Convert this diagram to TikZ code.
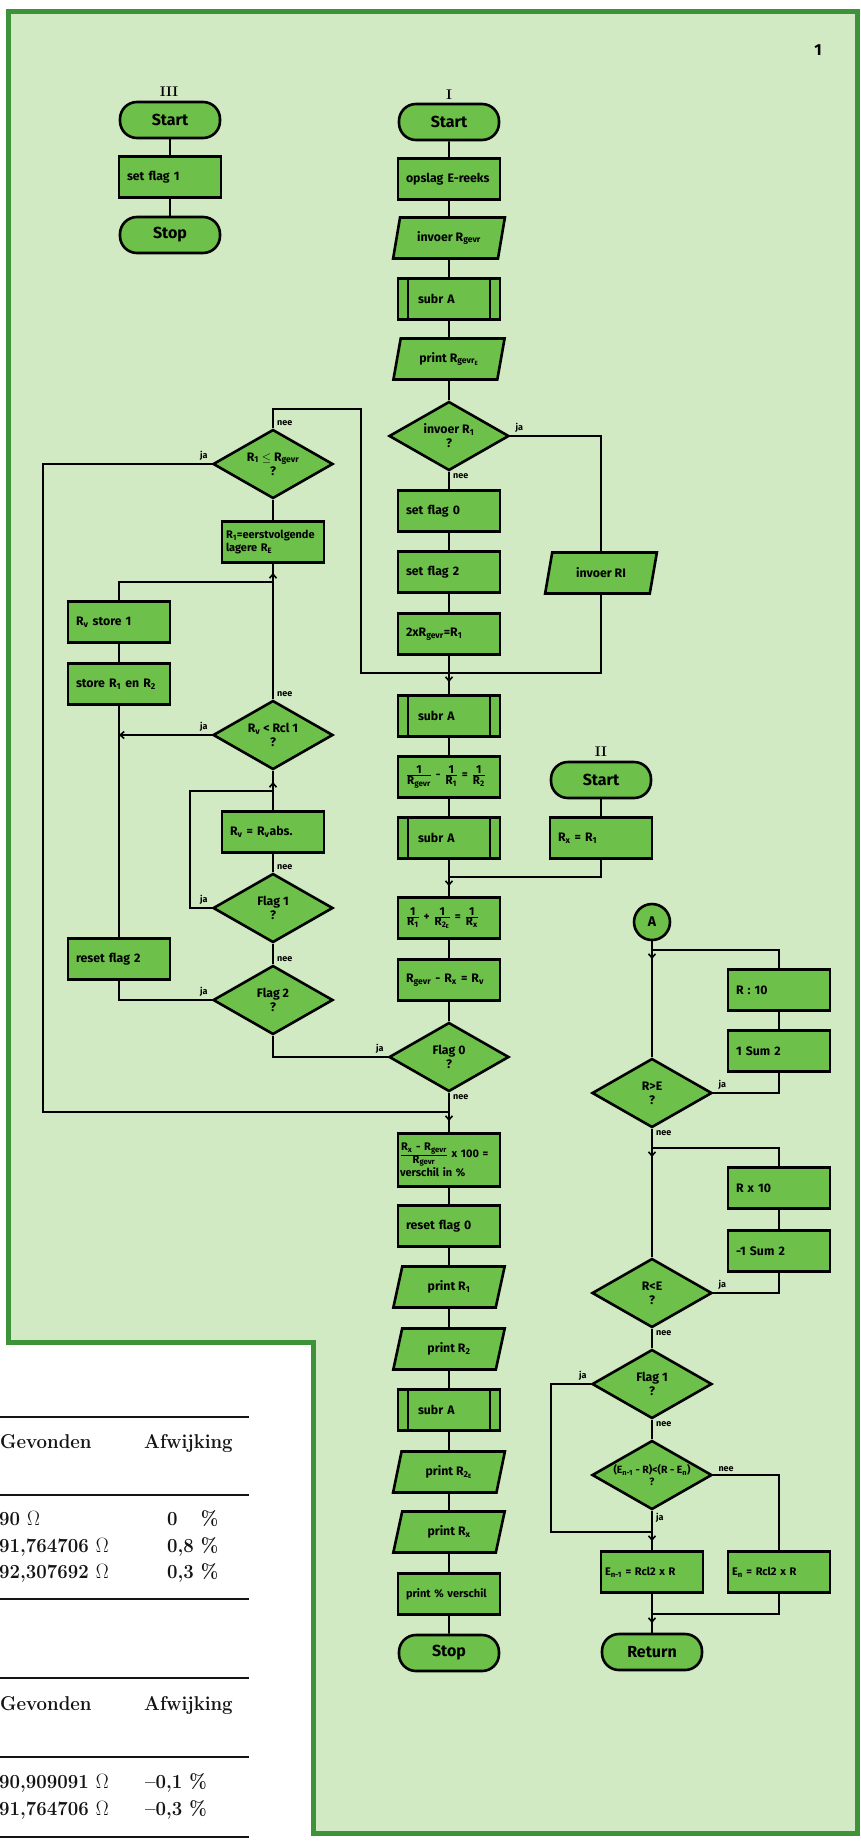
\documentclass[tikz,border=0pt]{standalone}
\usepackage{fontspec}
\usepackage{graphicx}
\usetikzlibrary{shapes.geometric,arrows.meta}
\newfontfamily\fcf{Fira Sans}
\definecolor{panel}{HTML}{D1EAC3}
\definecolor{boxg}{HTML}{6DC04A}
\definecolor{frameg}{HTML}{3D923A}
\definecolor{ink}{HTML}{141414}
\newcommand{\sbx}[1]{\textsubscript{#1}}
\newcommand{\frx}[2]{$\frac{\mbox{#1}}{\mbox{#2}}$}
\newcommand{\tb}[1]{\scalebox{0.93}[1]{#1}}
\newcommand{\ohm}{$\Omega$}
\begin{document}
\begin{tikzpicture}[x=1pt,y=-1pt,line join=miter,
  every node/.style={font=\fcf\bfseries\fontsize{12.3}{14}\selectfont},
  boxbase/.style={draw=black,line width=2.6pt,fill=boxg},
  proc/.style={boxbase,rectangle,minimum height=41pt,text width=86pt,inner xsep=8pt,inner ysep=2pt,align=left},
  subr/.style={proc,text width=62pt,inner xsep=20pt,
    path picture={\draw[line width=2pt] ([xshift=10pt]path picture bounding box.north west) -- ([xshift=10pt]path picture bounding box.south west);
                  \draw[line width=2pt] ([xshift=-10pt]path picture bounding box.north east) -- ([xshift=-10pt]path picture bounding box.south east);}},
  term/.style={boxbase,rectangle,rounded corners=17pt,minimum width=100pt,minimum height=36pt,font=\fcf\bfseries\fontsize{16}{18}\selectfont},
  io/.style={boxbase,trapezium,trapezium left angle=76,trapezium right angle=104,trapezium stretches=true,minimum width=112pt,minimum height=41pt,inner xsep=4pt,align=left},
  dia/.style={boxbase,diamond,shape aspect=1.7,minimum width=120pt,minimum height=69pt,inner sep=0pt,align=center},
  conn/.style={boxbase,circle,minimum size=36pt,inner sep=0pt,font=\fcf\bfseries\fontsize{14}{16}\selectfont},
  roman/.style={font=\rmfamily\bfseries\fontsize{14}{16}\selectfont,inner sep=0pt},
  ln/.style={draw=black,line width=1.6pt},
  mk/.style={draw=black,line width=1.6pt,-{Straight Barb[length=4pt,width=7pt]}},
  lab/.style={font=\fcf\bfseries\fontsize{9}{10}\selectfont,inner sep=1pt},
  tab/.style={font=\rmfamily\bfseries\fontsize{20}{24}\selectfont,text=ink,inner sep=0pt},
  rule/.style={draw=ink,line width=1.3pt}]
\useasboundingbox (0,0) rectangle (861,1841);
\fill[white] (0,0) rectangle (861,1841);
\draw[draw=frameg,line width=5pt,fill=panel] (8,12) -- (857,12) -- (857,1833) -- (313,1833) -- (313,1342) -- (8,1342) -- cycle;

% table outside the panel
\draw[rule] (0,1417) -- (249,1417);
\draw[rule] (0,1495) -- (249,1495);
\draw[rule] (0,1599) -- (249,1599);
\draw[rule] (0,1678) -- (249,1678);
\draw[rule] (0,1757) -- (249,1757);
\draw[rule] (0,1837) -- (249,1837);
\node[tab,anchor=base west] (g1) at (0,1448) {\tb{Gevonden}};
\node[tab,anchor=base west] (a1) at (144,1448) {\tb{Afwijking}};
\node[tab,anchor=base west] (v1) at (-1,1525) {\tb{90 \ohm}};
\node[tab,anchor=base west] (v2) at (-1,1552) {\tb{91,764706 \ohm}};
\node[tab,anchor=base west] (v3) at (-1,1578) {\tb{92,307692 \ohm}};
\node[tab,anchor=base west] (p1) at (167,1525) {\tb{0\phantom{,8} \%}};
\node[tab,anchor=base west] (p2) at (167,1552) {\tb{0,8 \%}};
\node[tab,anchor=base west] (p3) at (167,1578) {\tb{0,3 \%}};
\node[tab,anchor=base west] (g2) at (0,1710) {\tb{Gevonden}};
\node[tab,anchor=base west] (a2) at (144,1710) {\tb{Afwijking}};
\node[tab,anchor=base west] (v4) at (-1,1788) {\tb{90,909091 \ohm}};
\node[tab,anchor=base west] (v5) at (-1,1815) {\tb{91,764706 \ohm}};
\node[tab,anchor=base west] (p4) at (145,1788) {\tb{--0,1 \%}};
\node[tab,anchor=base west] (p5) at (145,1815) {\tb{--0,3 \%}};

\node[font=\fcf\bfseries\fontsize{16}{18}\selectfont] (num) at (818,50) {1};

% column III
\node[roman] (l3) at (169,92) {III};
\node[term] (s3) at (170,120) {Start};
\node[proc] (sf1) at (170,177) {set flag 1};
\node[term] (st3) at (170,235) {Stop};

% main column I
\node[roman] (l1) at (449,95) {I};
\node[term] (s1) at (449,122) {Start};
\node[proc] (ops) at (449,179) {opslag E-reeks};
\node[io] (inv) at (449,238) {invoer R\sbx{gevr}};
\node[subr] (sa1) at (449,299) {subr A};
\node[io] (prg) at (449,359) {print R\sbx{gevr\textsubscript{E}}};
\node[dia] (dinv) at (449,436) {invoer R\sbx{1}\\?};
\node[proc] (sf0) at (449,511) {set flag 0};
\node[proc] (sf2) at (449,572) {set flag 2};
\node[proc] (tw) at (449,634) {2xR\sbx{gevr}=R\sbx{1}};
\coordinate (m1) at (449,673);
\node[subr] (sa2) at (449,716) {subr A};
\node[proc,font=\fcf\bfseries\fontsize{11.5}{13}\selectfont] (fr1) at (449,777) {\frx{1}{R\sbx{gevr}} - \frx{1}{R\sbx{1}} = \frx{1}{R\sbx{2}}};
\node[subr] (sa3) at (449,838) {subr A};
\coordinate (m2) at (449,877);
\node[proc,font=\fcf\bfseries\fontsize{11.5}{13}\selectfont] (fr2) at (449,918) {\frx{1}{R\sbx{1}} + \frx{1}{R\sbx{2\textsubscript{E}}} = \frx{1}{R\sbx{x}}};
\node[proc] (rd) at (449,980) {R\sbx{gevr} - R\sbx{x} = R\sbx{v}};
\node[dia] (df0) at (449,1057) {Flag 0\\?};
\coordinate (m3) at (449,1112);
\node[proc,minimum height=53pt,text width=98pt,inner xsep=2pt,font=\fcf\bfseries\fontsize{11}{13}\selectfont] (pct) at (449,1160) {\frx{R\sbx{x} - R\sbx{gevr}}{R\sbx{gevr}} x 100 =\\verschil in \%};
\node[proc] (rf0) at (449,1226) {reset flag 0};
\node[io] (pr1) at (449,1287) {print R\sbx{1}};
\node[io] (pr2) at (449,1349) {print R\sbx{2}};
\node[subr] (sa4) at (449,1410) {subr A};
\node[io] (pr2e) at (449,1472) {print R\sbx{2\textsubscript{E}}};
\node[io] (prx) at (449,1532) {print R\sbx{x}};
\node[proc,font=\fcf\bfseries\fontsize{11}{13}\selectfont] (ppc) at (449,1594) {print \% verschil};
\node[term] (stop) at (449,1653) {Stop};

% left loop
\node[dia] (dr1) at (273,464) {R\sbx{1} $\leq$ R\sbx{gevr}\\?};
\node[proc,text width=94pt,inner xsep=4pt,font=\fcf\bfseries\fontsize{11}{13}\selectfont] (eer) at (273,542) {R\sbx{1}=eerstvolgende\\lagere R\sbx{E}};
\node[proc] (rvs) at (119,622) {R\sbx{v} store 1};
\node[proc] (str) at (119,684) {store R\sbx{1} en R\sbx{2}};
\node[dia] (drv) at (273,735) {R\sbx{v} < Rcl 1\\?};
\node[proc] (rva) at (273,832) {R\sbx{v} = R\sbx{v}abs.};
\node[dia] (df1) at (273,908) {Flag 1\\?};
\node[proc] (rf2) at (119,959) {reset flag 2};
\node[dia] (df2) at (273,1000) {Flag 2\\?};

% right parts
\node[io] (iri) at (601,573) {invoer RI};
\node[roman] (l2) at (601,752) {II};
\node[term] (s2) at (601,780) {Start};
\node[proc] (rx) at (601,838) {R\sbx{x} = R\sbx{1}};

\node[conn] (A) at (652,922) {A};
\coordinate (m4) at (652,950);
\node[proc] (rdv) at (779,990) {R : 10};
\node[proc] (sm1) at (779,1051) {1 Sum 2};
\node[dia] (dre) at (652,1093) {R>E\\?};
\coordinate (m5) at (652,1148);
\node[proc] (rml) at (779,1188) {R x 10};
\node[proc] (sm2) at (779,1251) {-1 Sum 2};
\node[dia] (drl) at (652,1293) {R<E\\?};
\node[dia] (df1b) at (652,1384) {Flag 1\\?};
\node[dia,inner sep=-14pt,font=\fcf\bfseries\fontsize{10.5}{12}\selectfont] (den) at (652,1475) {(E\sbx{n-1} - R)<(R - E\sbx{n})\\?};
\coordinate (m6) at (652,1532);
\node[proc,text width=94pt,inner xsep=4pt,font=\fcf\bfseries\fontsize{11}{13}\selectfont] (en1) at (652,1572) {E\sbx{n-1} = Rcl2 x R};
\node[proc,text width=94pt,inner xsep=4pt,font=\fcf\bfseries\fontsize{11}{13}\selectfont] (en) at (779,1572) {E\sbx{n} = Rcl2 x R};
\coordinate (m7) at (652,1614);
\node[term] (ret) at (652,1652) {Return};

% helper coordinates
\coordinate (c1) at (273,409);
\coordinate (c2) at (361,409);
\coordinate (c3) at (43,464);
\coordinate (c4) at (43,1112);
\coordinate (c5) at (190,908);
\coordinate (c6) at (551,1384);
\coordinate (m8) at (119,735);
\coordinate (m9) at (273,582);
\coordinate (m10) at (273,791);

% connectors
\draw[ln] (s3) -- (sf1) -- (st3);
\draw[ln] (s1) -- (ops) -- (inv) -- (sa1) -- (prg) -- (dinv);
\draw[ln] (dinv) -- (sf0) -- (sf2) -- (tw) -- (m1) -- (sa2) -- (fr1) -- (sa3) -- (m2) -- (fr2) -- (rd) -- (df0) -- (m3) -- (pct) -- (rf0) -- (pr1) -- (pr2) -- (sa4) -- (pr2e) -- (prx) -- (ppc) -- (stop);
\draw[ln] (dinv.east) -| (iri.north);
\draw[ln] (iri.south) |- (m1);
\draw[ln] (dr1.north) -- (c1) -- (c2) |- (m1);
\draw[mk] (m1) -- ++(0,9);
\draw[ln] (s2) -- (rx);
\draw[ln] (rx.south) |- (m2);
\draw[mk] (m2) -- ++(0,9);
\draw[ln] (df0.west) -| (df2.south);
\draw[ln] (df2.north) -- (df1.south);
\draw[ln] (df2.west) -| (rf2.south);
\draw[ln] (rf2.north) -- (str.south);
\draw[ln,-{Straight Barb[length=4pt,width=7pt]}] (drv.west) -- (m8);
\draw[ln] (str.north) -- (rvs.south);
\draw[ln] (rvs.north) |- (m9);
\draw[ln] (drv.north) -- (m9) -- (eer.south);
\draw[mk] (m9) -- ++(0,-9);
\draw[ln] (eer.north) -- (dr1.south);
\draw[ln] (dr1.west) -- (c3) -- (c4) -- (m3);
\draw[mk] (m3) -- ++(0,9);
\draw[ln] (df1.north) -- (rva.south);
\draw[ln] (rva.north) -- (m10) -- (drv.south);
\draw[ln] (df1.west) -- (c5) |- (m10);
\draw[mk] (m10) -- ++(0,-9);

\draw[ln] (A) -- (m4) -- (dre);
\draw[ln] (dre.east) -| (sm1.south);
\draw[ln] (sm1) -- (rdv);
\draw[ln] (rdv.north) |- (m4);
\draw[mk] (m4) -- ++(0,9);
\draw[ln] (dre) -- (m5) -- (drl);
\draw[ln] (drl.east) -| (sm2.south);
\draw[ln] (sm2) -- (rml);
\draw[ln] (rml.north) |- (m5);
\draw[mk] (m5) -- ++(0,9);
\draw[ln] (drl) -- (df1b);
\draw[ln] (df1b) -- (den);
\draw[ln] (df1b.west) -- (c6) |- (m6);
\draw[mk] (m6) -- ++(0,9);
\draw[ln] (den) -- (m6) -- (en1);
\draw[ln] (den.east) -| (en.north);
\draw[ln] (en1) -- (m7) -- (ret);
\draw[ln] (en.south) |- (m7);
\draw[mk] (m7) -- ++(0,9);

% labels
\node[lab,anchor=south west] (t1) at ([xshift=4pt,yshift=2pt]dinv.east) {ja};
\node[lab,anchor=north west] (t2) at ([xshift=3pt,yshift=-1pt]dinv.south) {nee};
\node[lab,anchor=south west] (t3) at ([xshift=3pt,yshift=1pt]dr1.north) {nee};
\node[lab,anchor=south east] (t4) at ([xshift=-3pt,yshift=2pt]dr1.west) {ja};
\node[lab,anchor=south west] (t5) at ([xshift=3pt,yshift=1pt]drv.north) {nee};
\node[lab,anchor=south east] (t6) at ([xshift=-3pt,yshift=2pt]drv.west) {ja};
\node[lab,anchor=south west] (t7) at ([xshift=3pt,yshift=1pt]df1.north) {nee};
\node[lab,anchor=south east] (t8) at ([xshift=-3pt,yshift=2pt]df1.west) {ja};
\node[lab,anchor=south west] (t9) at ([xshift=3pt,yshift=1pt]df2.north) {nee};
\node[lab,anchor=south east] (t10) at ([xshift=-3pt,yshift=2pt]df2.west) {ja};
\node[lab,anchor=south east] (t11) at ([xshift=-3pt,yshift=2pt]df0.west) {ja};
\node[lab,anchor=north west] (t12) at ([xshift=3pt,yshift=-1pt]df0.south) {nee};
\node[lab,anchor=south west] (t13) at ([xshift=4pt,yshift=2pt]dre.east) {ja};
\node[lab,anchor=north west] (t14) at ([xshift=3pt,yshift=-1pt]dre.south) {nee};
\node[lab,anchor=south west] (t15) at ([xshift=4pt,yshift=2pt]drl.east) {ja};
\node[lab,anchor=north west] (t16) at ([xshift=3pt,yshift=-1pt]drl.south) {nee};
\node[lab,anchor=south east] (t17) at ([xshift=-3pt,yshift=2pt]df1b.west) {ja};
\node[lab,anchor=north west] (t18) at ([xshift=3pt,yshift=-1pt]df1b.south) {nee};
\node[lab,anchor=south west] (t19) at ([xshift=4pt,yshift=2pt]den.east) {nee};
\node[lab,anchor=north west] (t20) at ([xshift=3pt,yshift=-1pt]den.south) {ja};
\end{tikzpicture}
\end{document}
